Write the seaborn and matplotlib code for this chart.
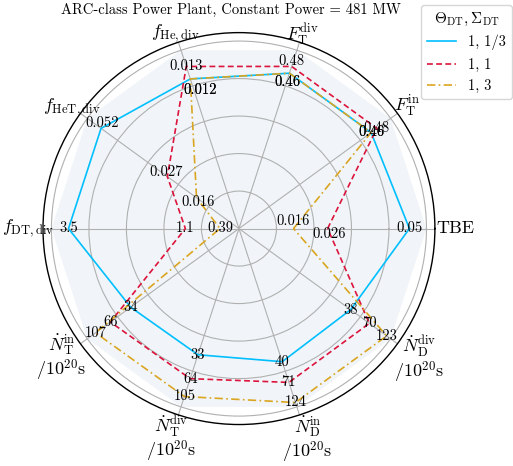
import numpy as np
import pandas as pd
import matplotlib
matplotlib.use("Agg")
import matplotlib.pyplot as plt
import seaborn as sns

# Quantities shown on each spoke (counter-clockwise from the right)
quantities = [
    "TBE",
    r"$F_\mathrm{T}^\mathrm{in}$",
    r"$F_\mathrm{T}^\mathrm{div}$",
    r"$f_\mathrm{He,div}$",
    r"$f_\mathrm{HeT,div}$",
    r"$f_\mathrm{DT,div}$",
    "$\\dot{N}_\\mathrm{T}^\\mathrm{in}$\n$/10^{20}$s",
    "$\\dot{N}_\\mathrm{T}^\\mathrm{div}$\n$/10^{20}$s",
    "$\\dot{N}_\\mathrm{D}^\\mathrm{in}$\n$/10^{20}$s",
    "$\\dot{N}_\\mathrm{D}^\\mathrm{div}$\n$/10^{20}$s",
]
# Spokes drawn on a logarithmic radial scale (particle throughputs)
log_spoke = [False, False, False, False, False, False, True, True, True, True]

# (Theta_DT, Sigma_DT) scenarios
scenarios = ["1, 1/3", "1, 1", "1, 3"]
vals_1_third = [0.05, 0.46, 0.46, 0.012, 0.052, 3.5, 34, 33, 40, 38]
vals_1_1 = [0.026, 0.48, 0.48, 0.013, 0.027, 1.1, 66, 64, 71, 70]
vals_1_3 = [0.016, 0.46, 0.46, 0.012, 0.016, 0.39, 107, 105, 124, 123]

series = [vals_1_third, vals_1_1, vals_1_3]
colors = {"1, 1/3": "#00BFFF", "1, 1": "#DC143C", "1, 3": "#DAA520"}
dashes = {"1, 1/3": "", "1, 1": (3.5, 2.0), "1, 3": (5.0, 2.0, 1.0, 2.0)}

LOG_TOP = 140.0       # value at the unit ring for log spokes
LIN_HEADROOM = 1.1    # linear spokes: unit ring at 1.1 x largest value

# nudges (points) for value labels that would otherwise collide
label_nudge = {
    (2, 0): (0, 5), (1, 0): (1, -4),
    (0, 2): (-1.5, -6.5), (2, 2): (-1.5, -6.5), (1, 2): (0, 3.5),
    (0, 3): (7, -8), (2, 3): (7, -8),
    (0, 4): (1, 3.5), (1, 4): (-1, 3.5), (2, 4): (1, -3.5),
}
# distance (points) from the outer circle to the centre of each spoke name
name_pad = [15, 8.2, 6.0, 7.0, 7.9, 10.4, 17, 18, 18.7, 19]

plt.rcParams["font.family"] = "serif"
plt.rcParams["font.serif"] = ["cmr10", "DejaVu Serif"]
plt.rcParams["mathtext.fontset"] = "cm"
plt.rcParams["axes.unicode_minus"] = False
plt.rcParams["axes.formatter.use_mathtext"] = True

n = len(quantities)
angles = np.linspace(0, 2 * np.pi, n, endpoint=False)
data = np.array(series, dtype=float)

# per-spoke radial transform into [0, 1]
radii = np.zeros_like(data)
for j in range(n):
    col = data[:, j]
    if log_spoke[j]:
        radii[:, j] = np.log10(col) / np.log10(LOG_TOP)
    else:
        radii[:, j] = col / (LIN_HEADROOM * col.max())

rows = []
for name, r in zip(scenarios, radii):
    for k in range(n):
        rows.append({"scenario": name, "theta": angles[k], "r": r[k]})
    rows.append({"scenario": name, "theta": 2 * np.pi, "r": r[0]})
df = pd.DataFrame(rows)

fig = plt.figure(figsize=(5.13, 4.66), dpi=100)
ax = fig.add_axes([0.0838, 0.089, 0.764, 0.841], projection="polar")

RMAX = 1.045

# shaded unit decagon in the background
ax.fill(np.append(angles, angles[0]), np.ones(n + 1), color="#f1f5f9", zorder=0, lw=0)

sns.lineplot(data=df, x="theta", y="r", hue="scenario", style="scenario",
             palette=colors, dashes=dashes, sort=False, estimator=None,
             lw=1.2, ax=ax, legend=True)

for i, (vals, r) in enumerate(zip(series, radii)):
    for j in range(n):
        ax.annotate(f"{vals[j]:g}", xy=(angles[j], r[j]),
                    xytext=label_nudge.get((i, j), (0, 0)),
                    textcoords="offset points", ha="center", va="center",
                    fontsize=10.5, zorder=5)

ax.set_ylim(0, RMAX)
ax.set_yticks([0.2, 0.4, 0.6, 0.8, 1.0])
ax.set_yticklabels([])
ax.set_xticks(angles)
ax.set_xticklabels([])
ax.set_xlabel("")
ax.set_ylabel("")
ax.grid(True, color="#b0b0b0", lw=0.8)
ax.spines["polar"].set_color("black")
ax.spines["polar"].set_linewidth(1.0)

# spoke names just outside the outer circle
for ang, txt, pad in zip(angles, quantities, name_pad):
    ax.annotate(txt, xy=(ang, RMAX), xytext=(pad * np.cos(ang), pad * np.sin(ang)),
                textcoords="offset points", ha="center", va="center",
                fontsize=13, linespacing=1.0, annotation_clip=False)

handles, labels = ax.get_legend_handles_labels()
ax.legend(handles, labels, title=r"$\Theta_\mathrm{DT}, \Sigma_\mathrm{DT}$",
          loc="upper left", bbox_to_anchor=(0.821, 0.99), borderaxespad=0,
          bbox_transform=fig.transFigure, fontsize=10.5, title_fontsize=11)

fig.text(0.451, 0.978, "ARC-class Power Plant, Constant Power = 481 MW",
         ha="center", va="center", fontsize=10.5)

fig.savefig("out.png", dpi=100)
